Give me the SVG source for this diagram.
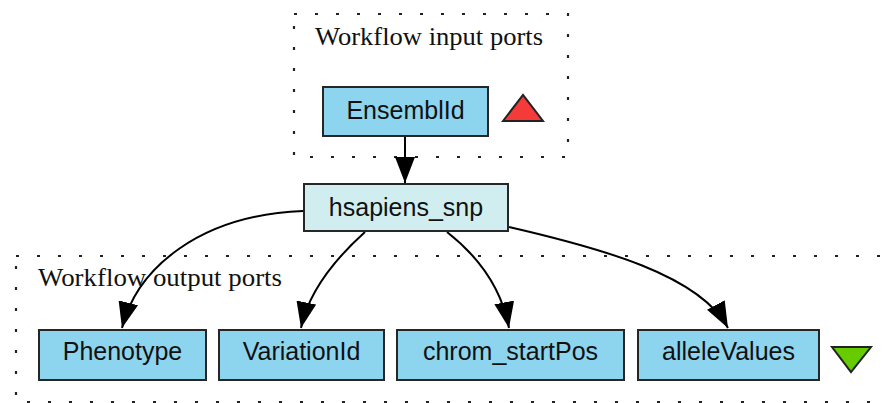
<svg xmlns="http://www.w3.org/2000/svg" width="882" height="403" viewBox="0 0 882 403">
  <defs>
    <style>
      .cluster { fill: none; stroke: #222; stroke-width: 2.2; stroke-dasharray: 3 18; }
      .title { font-family: "Liberation Serif", "Times New Roman", serif; font-size: 26px; fill: #111; }
      .port rect { fill: #8dd4ee; stroke: #262626; stroke-width: 2; }
      .proc rect { fill: #d0eef0; stroke: #262626; stroke-width: 2; }
      .label { font-family: "Liberation Sans", Arial, sans-serif; font-size: 25px; fill: #111; text-anchor: middle; }
      .edge { fill: none; stroke: #000; stroke-width: 2; marker-end: url(#arrow); }
    </style>
    <marker id="arrow" markerUnits="userSpaceOnUse" viewBox="0 0 26 20" refX="26" refY="10" markerWidth="26" markerHeight="20" orient="auto">
      <path d="M0,0 L26,10 L0,20 Z" fill="#000"/>
    </marker>
  </defs>

  <rect width="882" height="403" fill="#fff"/>

  <!-- clusters -->
  <g id="cluster_inputs">
    <rect class="cluster" x="294" y="14" width="274" height="143"/>
    <text class="title" x="315" y="45" textLength="228" lengthAdjust="spacingAndGlyphs">Workflow input ports</text>
  </g>
  <g id="cluster_outputs">
    <rect class="cluster" x="16" y="256" width="900" height="146"/>
    <text class="title" x="38" y="286" textLength="244" lengthAdjust="spacingAndGlyphs">Workflow output ports</text>
  </g>

  <!-- connectors -->
  <g id="connectors">
    <path class="edge" d="M405,137 L405,183"/>
    <path class="edge" d="M303,211 C200,215 137,268 122,328"/>
    <path class="edge" d="M365,232 C345,250 310,285 301,328"/>
    <path class="edge" d="M447,232 C470,250 500,280 509,328"/>
    <path class="edge" d="M509,227 C600,248 700,275 728,328"/>
  </g>

  <!-- nodes -->
  <g id="EnsemblId" class="port">
    <rect x="323" y="87" width="165" height="49"/>
    <text class="label" x="405.5" y="119">EnsemblId</text>
  </g>
  <g id="hsapiens_snp" class="proc">
    <rect x="304" y="184" width="204" height="47"/>
    <text class="label" x="406" y="216">hsapiens_snp</text>
  </g>
  <g id="Phenotype" class="port">
    <rect x="39" y="330" width="167" height="50"/>
    <text class="label" x="122.5" y="360">Phenotype</text>
  </g>
  <g id="VariationId" class="port">
    <rect x="219" y="330" width="165" height="50"/>
    <text class="label" x="301.5" y="360">VariationId</text>
  </g>
  <g id="chrom_startPos" class="port">
    <rect x="397" y="330" width="227" height="50"/>
    <text class="label" x="510.5" y="360">chrom_startPos</text>
  </g>
  <g id="alleleValues" class="port">
    <rect x="638" y="330" width="181" height="50"/>
    <text class="label" x="728.5" y="360">alleleValues</text>
  </g>

  <!-- input / output markers -->
  <g id="input_marker">
    <polygon points="503,121 523,95 543,121" fill="#f53a3a" stroke="#222" stroke-width="2" stroke-linejoin="miter"/>
  </g>
  <g id="output_marker">
    <polygon points="832,347 871,347 851,372" fill="#66cc00" stroke="#222" stroke-width="2"/>
  </g>
</svg>
